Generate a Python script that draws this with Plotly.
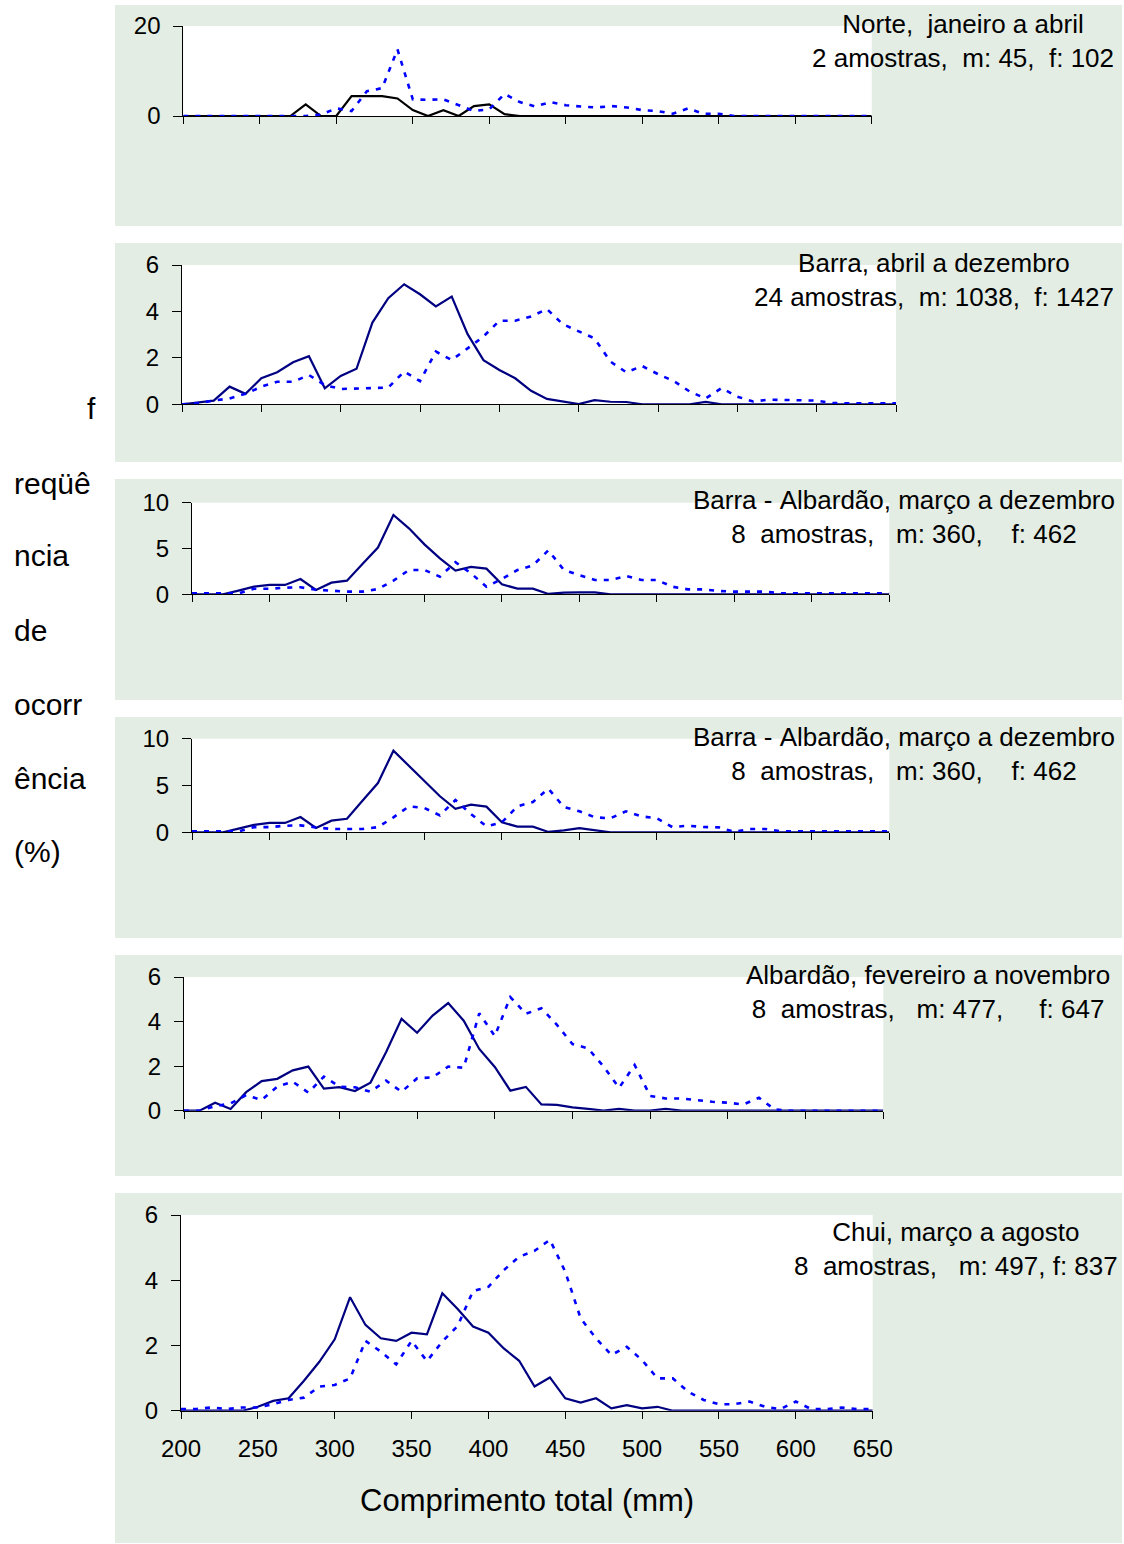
import plotly.graph_objects as go

# ---------------- data ----------------
LENGTH_MM = [200, 210, 220, 230, 240, 250, 260, 270, 280, 290, 300, 310, 320, 330, 340, 350,
             360, 370, 380, 390, 400, 410, 420, 430, 440, 450, 460, 470, 480, 490, 500, 510,
             520, 530, 540, 550, 560, 570, 580, 590, 600, 610, 620, 630, 640, 650]

X_TICKS = [200, 250, 300, 350, 400, 450, 500, 550, 600, 650]

# Norte, janeiro a abril
norte_m = [0, 0, 0, 0, 0, 0, 0, 0, 2.6, 0, 0, 4.4, 4.4, 4.4, 3.9, 1.3, 0, 1.3, 0, 2.2, 2.6, 0.4,
           0, 0, 0, 0, 0, 0, 0, 0, 0, 0, 0, 0, 0, 0, 0, 0, 0, 0, 0, 0, 0, 0, 0, 0]
norte_f = [0, 0, 0, 0, 0, 0, 0, 0, 0, 0.3, 1.7, 1.1, 5.5, 6.2, 14.8, 3.7, 3.6, 3.7, 2.4, 1.1, 1.5,
           4.9, 3.1, 2.1, 3.1, 2.4, 2.1, 1.9, 2.2, 1.9, 1.3, 1.1, 0.5, 1.7, 0.5, 0.5,
           0, 0, 0, 0, 0, 0, 0, 0, 0, 0]

# Barra, abril a dezembro
barra_m = [0, 0.07, 0.16, 0.76, 0.45, 1.12, 1.38, 1.81, 2.07, 0.69, 1.22, 1.53, 3.52, 4.57, 5.17,
           4.74, 4.22, 4.64, 3.02, 1.9, 1.48, 1.12, 0.58, 0.23, 0.11, 0.01, 0.18, 0.11, 0.1, 0,
           0, 0, 0, 0.1, 0, 0, 0, 0, 0, 0, 0, 0, 0, 0, 0, 0]
barra_f = [0, 0.05, 0.16, 0.25, 0.45, 0.76, 0.97, 0.97, 1.26, 0.83, 0.66, 0.69, 0.69, 0.72, 1.41,
           1.0, 2.27, 1.91, 2.41, 2.92, 3.6, 3.6, 3.78, 4.1, 3.45, 3.16, 2.84, 1.84, 1.38, 1.65,
           1.3, 1.0, 0.55, 0.25, 0.7, 0.33, 0.12, 0.2, 0.18, 0.18, 0.16, 0.05, 0.04, 0.04, 0.04, 0.04]

# Barra - Albardão, março a dezembro (first)
ba1_m = [0, 0, 0, 0.4, 0.83, 1.02, 1.02, 1.67, 0.47, 1.27, 1.49, 3.3, 5.1, 8.66, 7.2, 5.45, 3.92,
         2.58, 3.0, 2.8, 1.09, 0.62, 0.62, 0.04, 0.19, 0.2, 0.2,
         0, 0, 0, 0, 0, 0, 0, 0, 0, 0, 0, 0, 0, 0, 0, 0, 0, 0, 0]
ba1_f = [0.1, 0.1, 0.1, 0.1, 0.6, 0.6, 0.72, 0.77, 0.5, 0.36, 0.29, 0.29, 0.58, 1.49, 2.65, 2.65,
         1.93, 3.5, 2.3, 0.83, 1.67, 2.65, 3.16, 4.8, 2.65, 2.1, 1.56, 1.56, 2.0, 1.56, 1.56, 0.83,
         0.54, 0.54, 0.36, 0.29, 0.29, 0.29, 0.1, 0.1, 0.1, 0.1, 0.1, 0.1, 0.1, 0.1]

# Barra - Albardão, março a dezembro (second)
ba2_m = [0, 0, 0, 0.4, 0.8, 1.0, 1.0, 1.63, 0.46, 1.24, 1.45, 3.38, 5.26, 8.72, 7.1, 5.5, 3.85,
         2.5, 2.95, 2.74, 1.07, 0.6, 0.6, 0.04, 0.2, 0.45, 0.2,
         0, 0, 0, 0, 0, 0, 0, 0, 0, 0, 0, 0, 0, 0, 0, 0, 0, 0, 0]
ba2_f = [0.1, 0.1, 0.1, 0.1, 0.55, 0.55, 0.7, 0.74, 0.53, 0.36, 0.36, 0.36, 0.55, 1.6, 2.77, 2.6,
         1.81, 3.45, 1.95, 0.64, 1.07, 2.77, 3.24, 4.66, 2.7, 2.24, 1.6, 1.5, 2.24, 1.7, 1.5, 0.56,
         0.71, 0.56, 0.53, 0.04, 0.36, 0.36, 0.1, 0.1, 0.1, 0.1, 0.1, 0.1, 0.1, 0.1]

# Albardão, fevereiro a novembro
alb_m = [0, 0, 0.36, 0.08, 0.83, 1.33, 1.43, 1.81, 1.98, 0.99, 1.06, 0.88, 1.26, 2.62, 4.12, 3.5,
         4.27, 4.83, 4.04, 2.77, 1.96, 0.9, 1.07, 0.28, 0.26, 0.15, 0.08, 0, 0.08, 0, 0, 0.08,
         0, 0, 0, 0, 0, 0, 0, 0, 0, 0, 0, 0, 0, 0]
alb_f = [0, 0, 0.2, 0.33, 0.7, 0.48, 1.08, 1.3, 0.81, 1.53, 1.08, 1.05, 0.85, 1.35, 0.85, 1.45,
         1.5, 1.98, 1.93, 4.37, 3.35, 5.1, 4.35, 4.6, 3.85, 2.99, 2.8, 1.98, 1.03, 2.05, 0.66,
         0.55, 0.55, 0.47, 0.4, 0.36, 0.28, 0.58, 0.06, 0, 0, 0, 0, 0, 0, 0]

# Chui, março a agosto
chui_m = [0, 0, 0, 0, 0, 0.12, 0.3, 0.38, 0.92, 1.5, 2.19, 3.48, 2.63, 2.22, 2.14, 2.39, 2.34,
          3.6, 3.12, 2.58, 2.39, 1.91, 1.53, 0.74, 1.02, 0.38, 0.25, 0.38, 0.07, 0.17, 0.07, 0.12,
          0, 0, 0, 0, 0, 0, 0, 0, 0, 0, 0, 0, 0, 0]
chui_f = [0.05, 0.05, 0.1, 0.05, 0.1, 0.1, 0.2, 0.33, 0.4, 0.74, 0.79, 0.99, 2.14, 1.81, 1.42,
          2.14, 1.52, 2.12, 2.6, 3.67, 3.8, 4.31, 4.72, 4.9, 5.24, 4.26, 2.83, 2.22, 1.71, 1.96,
          1.55, 0.99, 0.99, 0.58, 0.33, 0.2, 0.2, 0.28, 0.12, 0.05, 0.28, 0.05, 0.05, 0.1, 0.05, 0.05]

TITLES = [
    ("Norte,  janeiro a abril", "2 amostras,  m: 45,  f: 102"),
    ("Barra, abril a dezembro", "24 amostras,  m: 1038,  f: 1427"),
    ("Barra - Albardão, março a dezembro", "8  amostras,   m: 360,    f: 462"),
    ("Barra - Albardão, março a dezembro", "8  amostras,   m: 360,    f: 462"),
    ("Albardão, fevereiro a novembro", "8  amostras,   m: 477,     f: 647"),
    ("Chui, março a agosto", "8  amostras,   m: 497, f: 837"),
]
Y_MAX = [20, 6, 10, 10, 6, 6]
Y_DTICK = [20, 2, 5, 5, 2, 2]
SERIES = [(norte_m, norte_f), (barra_m, barra_f), (ba1_m, ba1_f), (ba2_m, ba2_f),
          (alb_m, alb_f), (chui_m, chui_f)]

Y_TITLE_PARTS = ["f", "reqüê", "ncia", "de", "ocorr", "ência", "(%)"]
X_TITLE = "Comprimento total (mm)"

# ---------------- layout (pixels) ----------------
W, H = 1124, 1544
FONT = "Liberation Sans, Arial, sans-serif"
GREEN = "#E3EDE3"
NAVY = "#000080"
BLUE = "#0000FF"

# plot area: x0, x1, ytop, ybottom ; green box: x0, y0, x1, y1 ; label center x, line1 y, line2 y
PANELS = [
    dict(plot=(183.3, 871.7, 26, 116), box=(115, 5, 1122, 226), lab=(963, 25, 58)),
    dict(plot=(182, 896, 265, 404.3), box=(115, 243, 1122, 462), lab=(934, 263, 297)),
    dict(plot=(192, 889.3, 502.7, 594.3), box=(115, 479, 1122, 700), lab=(904, 500, 533)),
    dict(plot=(192, 889.3, 738.7, 832.3), box=(115, 717, 1122, 938), lab=(904, 737, 771)),
    dict(plot=(184, 883.3, 977, 1110.7), box=(115, 955, 1122, 1176), lab=(928, 975, 1009)),
    dict(plot=(181, 872.7, 1215, 1410.7), box=(115, 1193, 1122, 1543), lab=(956, 1232, 1266)),
]


def fx(p):
    return p / W


def fy(p):
    return 1 - p / H


def nb(s):
    return s.replace(" ", "\u00a0")


fig = go.Figure()
shapes = []
annotations = []
layout_axes = {}

for i, (pan, (m_vals, f_vals)) in enumerate(zip(PANELS, SERIES)):
    k = i + 1
    xa = "x" if k == 1 else f"x{k}"
    ya = "y" if k == 1 else f"y{k}"
    xkey = "xaxis" if k == 1 else f"xaxis{k}"
    ykey = "yaxis" if k == 1 else f"yaxis{k}"
    px0, px1, pyt, pyb = pan["plot"]
    bx0, by0, bx1, by1 = pan["box"]

    shapes.append(dict(type="rect", xref="paper", yref="paper", x0=fx(bx0), x1=fx(bx1),
                       y0=fy(by1), y1=fy(by0), fillcolor=GREEN, line=dict(width=0), layer="below"))
    shapes.append(dict(type="rect", xref="paper", yref="paper", x0=fx(px0), x1=fx(px1),
                       y0=fy(pyb), y1=fy(pyt), fillcolor="white", line=dict(width=0), layer="below"))

    is_last = (k == len(PANELS))
    layout_axes[xkey] = dict(
        domain=[fx(px0), fx(px1)], anchor=ya, range=[200, 650], automargin=False,
        tickmode="array", tickvals=X_TICKS, ticktext=[str(v) for v in X_TICKS],
        showticklabels=is_last, ticks="outside", ticklen=7, tickcolor="black", tickwidth=1,
        showline=True, linecolor="black", linewidth=1, showgrid=False, zeroline=False,
        tickfont=dict(family=FONT, size=24, color="black"), ticklabelstandoff=9,
    )
    layout_axes[ykey] = dict(
        domain=[fy(pyb), fy(pyt)], anchor=xa, range=[0, Y_MAX[i]], dtick=Y_DTICK[i], tick0=0,
        automargin=False,
        ticks="outside", ticklen=9, tickcolor="black", tickwidth=1,
        showline=True, linecolor="black", linewidth=1, showgrid=False, zeroline=False,
        tickfont=dict(family=FONT, size=24, color="black"), ticklabelstandoff=8,
    )

    male_color = "black" if k == 1 else NAVY
    fig.add_trace(go.Scatter(x=LENGTH_MM, y=m_vals, xaxis=xa, yaxis=ya, mode="lines",
                             line=dict(color=male_color, width=2.2), showlegend=False,
                             hoverinfo="skip"))
    fig.add_trace(go.Scatter(x=LENGTH_MM, y=f_vals, xaxis=xa, yaxis=ya, mode="lines",
                             line=dict(color=BLUE, width=2.6, dash="5px,7px"), showlegend=False,
                             hoverinfo="skip"))

    lx, ly1, ly2 = pan["lab"]
    t1, t2 = TITLES[i]
    annotations.append(dict(xref="paper", yref="paper", x=fx(lx), y=fy((ly1 + ly2) / 2),
                            xanchor="center", yanchor="middle", align="center", showarrow=False,
                            text=nb(t1) + "<br>" + nb(t2),
                            font=dict(family=FONT, size=26, color="black")))

# y axis title fragments
Y_TITLE_POS = [(91, 408, "center"), (12, 483, "left"), (12, 556, "left"), (12, 630, "left"),
               (12, 704, "left"), (12, 778, "left"), (12, 852, "left")]
for txt, (tx, ty, anc) in zip(Y_TITLE_PARTS, Y_TITLE_POS):
    annotations.append(dict(xref="paper", yref="paper", x=fx(tx), y=fy(ty), xanchor=anc,
                            yanchor="middle", showarrow=False, text=txt,
                            font=dict(family=FONT, size=30, color="black")))

annotations.append(dict(xref="paper", yref="paper", x=fx(527), y=fy(1500), xanchor="center",
                        yanchor="middle", showarrow=False, text=X_TITLE,
                        font=dict(family=FONT, size=31, color="black")))

fig.update_layout(
    width=W, height=H, margin=dict(l=0, r=0, t=0, b=0, pad=0, autoexpand=False),
    paper_bgcolor="white", plot_bgcolor="rgba(0,0,0,0)",
    shapes=shapes, annotations=annotations, showlegend=False,
    **layout_axes,
)

fig.write_html(
    "out.html",
    config={"displayModeBar": False, "staticPlot": True},
    post_script="document.body.style.margin='0';document.body.style.padding='0';"
                "document.documentElement.style.overflow='hidden';",
)
